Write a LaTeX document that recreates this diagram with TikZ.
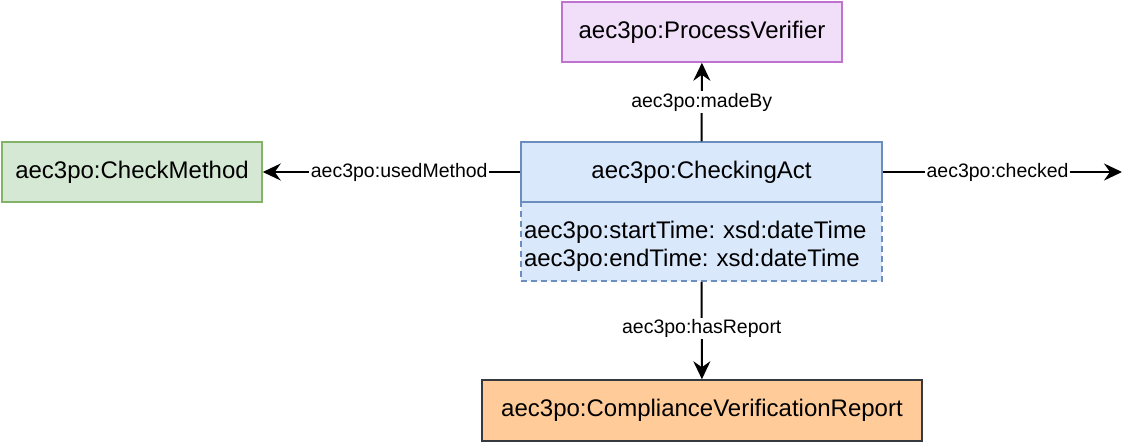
\documentclass[tikz,border=0pt]{standalone}
\usepackage{fontspec}
\setmainfont{Liberation Sans}
\usetikzlibrary{arrows.meta}

\definecolor{verifierfill}{HTML}{F1DEF9}
\definecolor{verifierline}{HTML}{BF72CF}
\definecolor{methodfill}{HTML}{D5E8D4}
\definecolor{methodline}{HTML}{82B366}
\definecolor{actfill}{HTML}{DAE8FC}
\definecolor{actline}{HTML}{6C8EBF}
\definecolor{reportfill}{HTML}{FFCC99}
\definecolor{reportline}{HTML}{36393D}

\begin{document}
\frenchspacing
\begin{tikzpicture}[x=1pt,y=-1pt,
	classbox/.style={draw,line width=1.5pt,minimum height=60pt,inner sep=0pt,font=\fontsize{24}{28}\selectfont},
	proplabel/.style={fill=white,inner sep=1.5pt,font=\fontsize{19.5}{22}\selectfont},
	link/.style={line width=2pt,-{Stealth[length=18pt,width=17pt,inset=6pt]}}]
		\useasboundingbox (0,0) rectangle (1140,445);
		
		% attribute compartment first, so the class header border lies on top
		\node [classbox,fill=actfill,draw=actline,dash pattern=on 6pt off 4pt,minimum width=361pt,minimum height=79pt,text width=355pt,align=left,font=\fontsize{24}{28}\selectfont] (acttime) at (701.5,241.5) {\rule{0pt}{27.5pt}aec3po:startTime: xsd:dateTime\\aec3po:endTime: xsd:dateTime};
		\node [classbox,fill=actfill,draw=actline,minimum width=361pt] (act) at (701.5,172) {aec3po:CheckingAct};
		
		\node [classbox,fill=verifierfill,draw=verifierline,minimum width=280pt] (verifier) at (702,32) {aec3po:ProcessVerifier};
		\node [classbox,fill=methodfill,draw=methodline,minimum width=260pt] (method) at (132,172) {aec3po:CheckMethod};
		\node [classbox,fill=reportfill,draw=reportline,minimum width=440pt,minimum height=61pt] (report) at (702,410.5) {aec3po:ComplianceVerificationReport};
		\coordinate (checkedend) at (1122,172);
		
		\draw [link] (act) -- node[proplabel] {aec3po:madeBy} (verifier);
		\draw [link] (act) -- node[proplabel,pos=0.47] {aec3po:usedMethod} (method);
		\draw [link] (act) -- node[proplabel,pos=0.48] {aec3po:checked} (checkedend);
		\draw [link] (acttime) -- node[proplabel,pos=0.48] {aec3po:hasReport} (report);
		
	\end{tikzpicture}
\end{document}
